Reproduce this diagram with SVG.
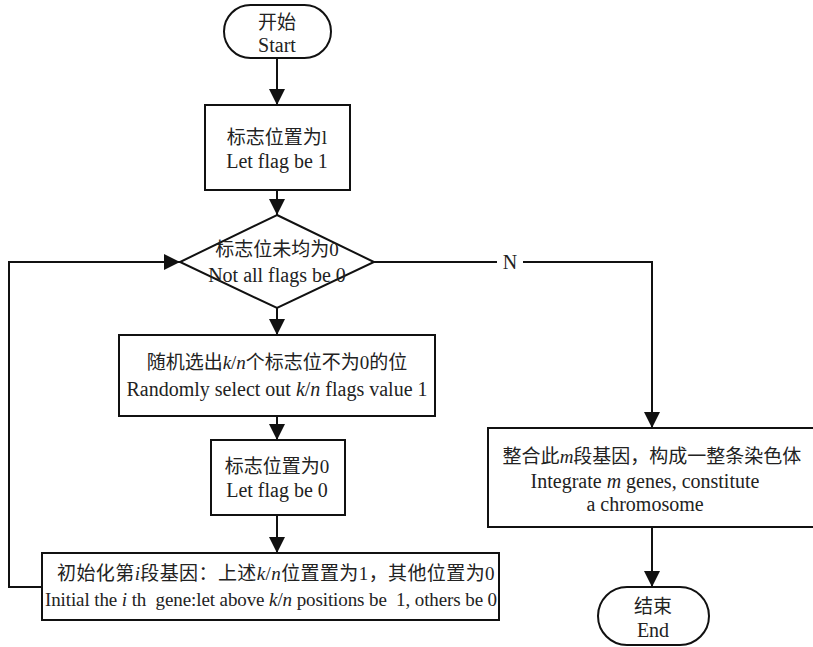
<svg xmlns="http://www.w3.org/2000/svg" width="813" height="647" viewBox="0 0 813 647">
<style>
.s{fill:#fff;stroke:#111;stroke-width:2}
.c{fill:none;stroke:#111;stroke-width:2}
text{font-family:"Liberation Serif","Noto Sans CJK SC",serif;font-size:19px;fill:#222;text-anchor:middle}
.e{font-size:20px}
.i{font-style:italic}
</style>
<defs>
<marker id="a" markerUnits="userSpaceOnUse" markerWidth="16" markerHeight="16" refX="16" refY="8" orient="auto">
<path d="M0,0 L16,8 L0,16 Z" fill="#111"/>
</marker>
</defs>
<g id="connectors">
<line class="c" x1="277" y1="58" x2="277" y2="105" marker-end="url(#a)"/>
<line class="c" x1="277" y1="190" x2="277" y2="215" marker-end="url(#a)"/>
<line class="c" x1="277" y1="308" x2="277" y2="335" marker-end="url(#a)"/>
<line class="c" x1="277" y1="416" x2="277" y2="440" marker-end="url(#a)"/>
<line class="c" x1="277" y1="515" x2="277" y2="553" marker-end="url(#a)"/>
<polyline class="c" points="42,587 9,587 9,262 180,262" marker-end="url(#a)"/>
<polyline class="c" points="374,262 497,262"/>
<polyline class="c" points="523,262 652,262 652,428" marker-end="url(#a)"/>
<text class="e" x="510" y="269">N</text>
<line class="c" x1="652" y1="527" x2="652" y2="587" marker-end="url(#a)"/>
</g>
<g id="start">
<rect class="s" x="224" y="5" width="107" height="53" rx="26.5"/>
<text x="277" y="29">开始</text>
<text class="e" x="277" y="52">Start</text>
</g>
<g id="setflag1">
<rect class="s" x="205" y="105" width="145" height="85"/>
<text x="277" y="144">标志位置为l</text>
<text class="e" x="277" y="168">Let flag be 1</text>
</g>
<g id="decision">
<polygon class="s" points="277,215 374,262 277,308 180,262"/>
<text x="277" y="256">标志位未均为0</text>
<text class="e" x="277" y="282">Not all flags be 0</text>
</g>
<g id="select">
<rect class="s" x="119" y="335" width="316" height="81"/>
<text x="277" y="369">随机选出<tspan class="i">k</tspan>/<tspan class="i">n</tspan>个标志位不为0的位</text>
<text class="e" x="277" y="396">Randomly select out <tspan class="i">k</tspan>/<tspan class="i">n</tspan> flags value 1</text>
</g>
<g id="setflag0">
<rect class="s" x="211" y="440" width="134" height="75"/>
<text x="277" y="473">标志位置为0</text>
<text class="e" x="277" y="497">Let flag be 0</text>
</g>
<g id="init">
<rect class="s" x="42" y="553" width="457" height="67"/>
<text x="276" y="580" letter-spacing="0.4">初始化第<tspan class="i">i</tspan>段基因：上述<tspan class="i">k</tspan>/<tspan class="i">n</tspan>位置置为1，其他位置为0</text>
<text x="271" y="606" letter-spacing="-0.1">Initial the <tspan class="i">i</tspan> th&#160; gene:let above <tspan class="i">k</tspan>/<tspan class="i">n</tspan> positions be&#160; 1, others be 0</text>
</g>
<g id="integrate">
<rect class="s" x="488" y="428" width="326" height="99"/>
<text x="652" y="463">整合此<tspan class="i">m</tspan>段基因，构成一整条染色体</text>
<text class="e" x="645" y="488">Integrate <tspan class="i">m</tspan> genes, constitute</text>
<text class="e" x="645" y="511">a chromosome</text>
</g>
<g id="end">
<rect class="s" x="598" y="587" width="111" height="58" rx="29"/>
<text x="653" y="613">结束</text>
<text class="e" x="653" y="637">End</text>
</g>
</svg>
